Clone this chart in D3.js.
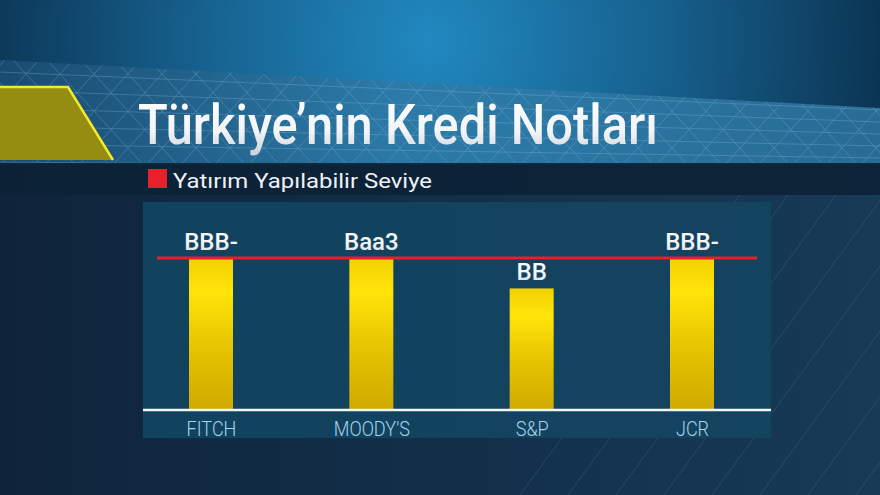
<!DOCTYPE html>
<html><head><meta charset="utf-8">
<script src="https://cdn.jsdelivr.net/npm/d3@7/dist/d3.min.js"></script>
<style>html,body{margin:0;padding:0;background:#10263d;overflow:hidden}svg{display:block}</style>
</head><body>
<script>
const agencies = ["FITCH", "MOODY'S", "S&P", "JCR"];
const ratings = ["BBB-", "Baa3", "BB", "BBB-"];
const scores = [10, 10, 8, 10];          // notch score (investment-grade threshold = 10)
const threshold = 10;
const titleText = "Türkiye’nin Kredi Notları";
const legendText = "Yatırım Yapılabilir Seviye";

const W = 880, H = 495;
const svg = d3.select("body").append("svg").attr("width", W).attr("height", H);
const defs = svg.append("defs");

// gradients
const topG = defs.append("radialGradient").attr("id","topG").attr("gradientUnits","userSpaceOnUse")
  .attr("cx",430).attr("cy",40).attr("r",480);
topG.append("stop").attr("offset",0).attr("stop-color","#2189c0");
topG.append("stop").attr("offset",0.5).attr("stop-color","#165f8c");
topG.append("stop").attr("offset",1).attr("stop-color","#0a2f4c");

const bandG = defs.append("linearGradient").attr("id","bandG").attr("x1",0).attr("x2",1).attr("y1",0).attr("y2",0);
bandG.append("stop").attr("offset",0).attr("stop-color","#1d4f74");
bandG.append("stop").attr("offset",0.45).attr("stop-color","#2f7aa6");
bandG.append("stop").attr("offset",1).attr("stop-color","#2f76a0");

const lowG = defs.append("linearGradient").attr("id","lowG").attr("x1",0).attr("x2",1).attr("y1",0).attr("y2",0);
lowG.append("stop").attr("offset",0).attr("stop-color","#0f243b");
lowG.append("stop").attr("offset",0.6).attr("stop-color","#13314c");
lowG.append("stop").attr("offset",1).attr("stop-color","#173a56");

const barG = defs.append("linearGradient").attr("id","barG").attr("x1",0).attr("x2",0).attr("y1",0).attr("y2",1);
barG.append("stop").attr("offset",0).attr("stop-color","#f2d000");
barG.append("stop").attr("offset",0.22).attr("stop-color","#ffe40a");
barG.append("stop").attr("offset",0.6).attr("stop-color","#e6c300");
barG.append("stop").attr("offset",1).attr("stop-color","#d0aa00");

const txtG = defs.append("linearGradient").attr("id","txtG").attr("x1",0).attr("x2",0).attr("y1",0).attr("y2",1);
txtG.append("stop").attr("offset",0).attr("stop-color","#ffffff");
txtG.append("stop").attr("offset",0.6).attr("stop-color","#f2f4f6");
txtG.append("stop").attr("offset",1).attr("stop-color","#c9ced4");

// background
svg.append("rect").attr("width",W).attr("height",H).attr("fill","url(#lowG)");
svg.append("rect").attr("width",W).attr("height",165).attr("fill","url(#topG)");

// mesh band
const bandPts = [[0,60],[880,108],[880,165],[0,165]];
defs.append("clipPath").attr("id","bandClip").append("polygon").attr("points",bandPts.map(p=>p.join(",")).join(" "));
svg.append("polygon").attr("points",bandPts.map(p=>p.join(",")).join(" ")).attr("fill","url(#bandG)").attr("opacity",0.85);
const mesh = svg.append("g").attr("clip-path","url(#bandClip)").attr("stroke","#8fc3e3").attr("stroke-width",0.7).attr("opacity",0.4);
for (let k=-300;k<1100;k+=34){ mesh.append("line").attr("x1",k).attr("y1",170).attr("x2",k+110).attr("y2",50); }
for (let k=-200;k<1200;k+=34){ mesh.append("line").attr("x1",k).attr("y1",50).attr("x2",k+110).attr("y2",170); }
for (let k=0;k<6;k++){ mesh.append("line").attr("x1",0).attr("y1",72+k*18).attr("x2",880).attr("y2",110+k*12); }

// faint lines lower right
const low = svg.append("g").attr("stroke","#5d8fb3").attr("stroke-width",0.8).attr("opacity",0.3);
for (let k=720;k<1150;k+=48){ low.append("line").attr("x1",k-200).attr("y1",495).attr("x2",k+20).attr("y2",195); }

// yellow trapezoid
svg.append("polygon").attr("points","0,87 68,87 113,160 0,160").attr("fill","#958c12");
svg.append("polyline").attr("points","0,87 68,87 113,160").attr("fill","none").attr("stroke","#f3ea2a").attr("stroke-width",2.5);

// title
svg.append("text").attr("x",138).attr("y",144).text(titleText)
  .attr("font-family","Roboto, 'Open Sans', sans-serif").attr("font-size",56).attr("font-weight",500)
  .attr("fill","url(#txtG)").attr("textLength",520).attr("lengthAdjust","spacingAndGlyphs");

// legend strip
svg.append("rect").attr("x",0).attr("y",163).attr("width",W).attr("height",32).attr("fill","#0c2236").attr("opacity",0.92);
svg.append("rect").attr("x",148).attr("y",169).attr("width",19).attr("height",19).attr("fill","#e8202a");
svg.append("text").attr("x",173).attr("y",188).text(legendText)
  .attr("font-family","Roboto, sans-serif").attr("font-size",21).attr("font-weight",400).attr("fill","#eef2f6")
  .attr("textLength",259).attr("lengthAdjust","spacingAndGlyphs");

// chart panel
svg.append("rect").attr("x",143).attr("y",202).attr("width",628).attr("height",236).attr("fill","#134560").attr("opacity",0.95);

const x = d3.scalePoint().domain(agencies).range([211, 692]);
const y = d3.scaleLinear().domain([0, threshold]).range([410, 258]);
const bw = 44;

const g = svg.append("g");
g.selectAll("rect.bar").data(agencies).join("rect").attr("class","bar")
  .attr("x",d=>x(d)-bw/2).attr("width",bw)
  .attr("y",(d,i)=>y(scores[i])).attr("height",(d,i)=>y(0)-y(scores[i]))
  .attr("fill","url(#barG)");

// threshold line
g.append("line").attr("x1",157).attr("x2",757).attr("y1",y(threshold)).attr("y2",y(threshold))
  .attr("stroke","#e3202c").attr("stroke-width",3);

// baseline axis
const xAxis = d3.axisBottom(x).tickSize(0).tickPadding(10);
const ax = svg.append("g").attr("transform",`translate(0,${y(0)})`).call(xAxis);
ax.select(".domain").remove();
ax.append("line").attr("x1",143).attr("x2",771).attr("y1",0).attr("y2",0).attr("stroke","#f2f6f8").attr("stroke-width",2.5);
ax.selectAll(".tick text").attr("font-family","Roboto, sans-serif").attr("font-size",21).attr("font-weight",300)
  .attr("fill","#a6d3ee").attr("dy","0.95em").attr("y",6)
  .each(function(){ const l=this.getComputedTextLength(); d3.select(this).attr("textLength",l*0.86).attr("lengthAdjust","spacingAndGlyphs"); });

// value labels
g.selectAll("text.val").data(agencies).join("text").attr("class","val")
  .attr("x",d=>x(d)).attr("y",(d,i)=>y(scores[i])-8).attr("text-anchor","middle")
  .text((d,i)=>ratings[i])
  .attr("font-family","Roboto, sans-serif").attr("font-size",24).attr("font-weight",500).attr("fill","url(#txtG)");
</script>
</body></html>
